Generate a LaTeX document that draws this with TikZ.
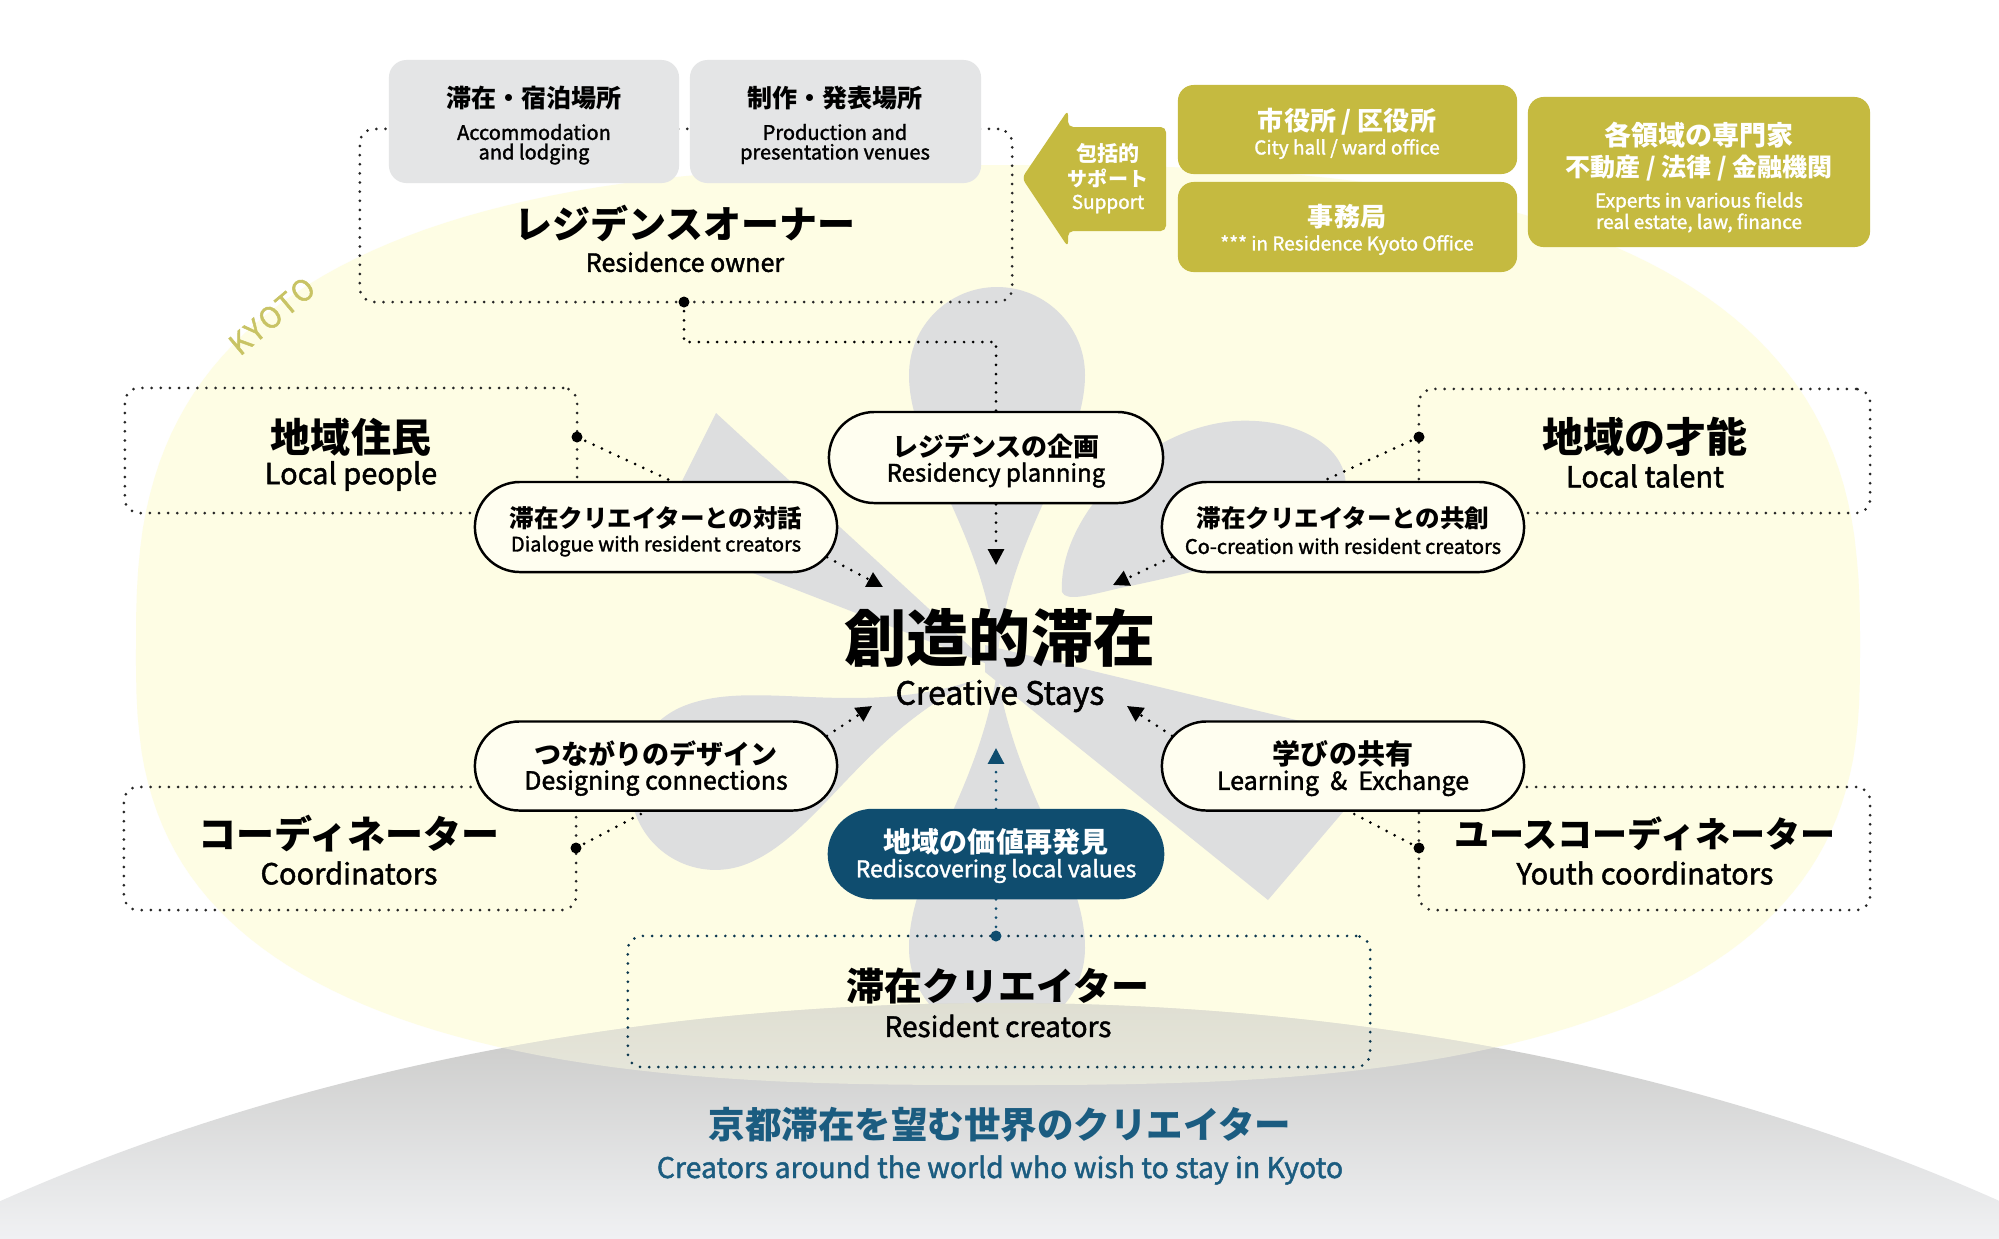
\documentclass[tikz,border=0pt]{standalone}
\usepackage{fontspec}
\setmainfont{Noto Sans CJK JP}
\newfontfamily\medfont{Noto Sans CJK JP}[FakeBold=1.6]
\newfontfamily\kyotofont{Noto Sans CJK JP}[FakeBold=1.6, LetterSpace=8]
\usetikzlibrary{arrows.meta,shapes.misc,calc}
\definecolor{cream}{RGB}{254,253,228}
\definecolor{pillfill}{RGB}{255,254,240}
\definecolor{petalgray}{RGB}{221,222,223}
\definecolor{boxgray}{RGB}{228,229,230}
\definecolor{olive}{RGB}{197,186,64}
\definecolor{kyotoc}{RGB}{200,195,100}
\definecolor{navy}{RGB}{15,77,111}
\definecolor{bluetxt}{RGB}{27,92,128}
\definecolor{hilltop}{RGB}{198,198,196}
\definecolor{hillbot}{RGB}{240,241,243}
\newcommand\pxf[1]{\fontsize{\fpeval{#1*0.28453}pt}{\fpeval{#1*0.33}pt}\selectfont}
\newcommand\kyotoshape{plot[domain=0.5:360.5, samples=201] ({998+862*(cos(\x)>=0?1:-1)*abs(cos(\x))^0.7273}, {650-(sin(\x)>=0?485:435)*(sin(\x)>=0?1:-1)*abs(sin(\x))^0.7273}) -- cycle}
\newcommand\hillshape{(1000,2003) ellipse [x radius=1673, y radius=1000]}
% petal: base x, base y, angle, length, head radius, stem factor
\newcommand\petal[6]{%
  \begin{scope}[shift={(#1,#2)},rotate=#3]
    \fill[petalgray] (0,0) .. controls ({0.45*#4},{#6*#5}) and ({#4-0.9*#5},{#5}) .. ({#4},{#5})
      arc[start angle=90,end angle=-90,radius=#5]
      .. controls ({#4-0.9*#5},{-#5}) and ({0.45*#4},{-#6*#5}) .. (0,0) -- cycle;
  \end{scope}}
\tikzset{
  lbl/.style={inner sep=0pt, anchor=center},
  dotline/.style={line width=0.85pt, line cap=round, dash pattern=on 0pt off 2.6pt},
  dotbox/.style={draw=black!85, line width=0.85pt, line cap=round, dash pattern=on 0pt off 2.6pt, rounded corners=4pt, inner sep=0pt},
  graybox/.style={fill=boxgray, rounded corners=5pt, inner sep=0pt},
  olivebox/.style={fill=olive, rounded corners=4.5pt, inner sep=0pt},
  pill/.style={rounded rectangle, draw=black, line width=0.7pt, fill=pillfill, inner sep=0pt, minimum height=0.9cm},
  tip/.style={-{Triangle[length=4.5pt,width=4.5pt]}},
  jpb/.style={lbl, font=\bfseries\pxf{#1}},
  enm/.style={lbl, font=\medfont\pxf{#1}}
}
\begin{document}
\begin{tikzpicture}[x=0.01cm, y=-0.01cm]
\useasboundingbox (0,0) rectangle (1999,1238);
\fill[white] (0,0) rectangle (1999,1238);
% Kyoto area
\fill[cream] \kyotoshape;
% petals
\petal{997}{665}{90}{290}{88}{0.10}
\petal{975}{680}{202}{280}{85}{0.10}
\petal{997}{672}{-90}{276}{88}{0.22}
\fill[petalgray] (1062,592) .. controls (1058,520) and (1140,428) .. (1235,421)
  .. controls (1300,417) and (1352,450) .. (1345,492)
  .. controls (1332,540) and (1200,572) .. (1120,588)
  .. controls (1090,595) and (1066,602) .. (1062,592) -- cycle;
\fill[petalgray] (990,665) -- (716,413) -- (655,535) -- cycle;
\fill[petalgray] (985,645) -- (1400,745) -- (1268,900) -- (985,672) -- cycle;
% hill of world creators
\begin{scope}
  \clip \hillshape;
  \shade[top color=hilltop, bottom color=hillbot] (0,1000) rectangle (1999,1238);
  \fill[cream, opacity=0.45] \kyotoshape;
\end{scope}
% KYOTO label
\node[lbl, rotate=40, text=kyotoc, font=\kyotofont\pxf{29}] (kyoto) at (272,316) {KYOTO};
% dotted boxes
\node[dotbox, minimum width=6.52cm, minimum height=1.73cm] (owner) at (686,215.5) {};
\node[dotbox, minimum width=4.52cm, minimum height=1.25cm] (lp) at (351,450.5) {};
\node[dotbox, minimum width=4.51cm, minimum height=1.24cm] (lt) at (1644.5,451) {};
\node[dotbox, minimum width=4.52cm, minimum height=1.23cm] (co) at (350,848.5) {};
\node[dotbox, minimum width=4.51cm, minimum height=1.23cm] (yc) at (1644.5,848.5) {};
\node[dotbox, draw=navy!70!black, minimum width=7.42cm, minimum height=1.31cm] (rc) at (999,1001.5) {};
% gray boxes
\node[graybox, minimum width=2.90cm, minimum height=1.23cm] (acc) at (534,121.5) {};
\node[graybox, minimum width=2.91cm, minimum height=1.23cm] (prod) at (835.5,121.5) {};
% olive support boxes
\node[olivebox, minimum width=3.39cm, minimum height=0.89cm] (city) at (1347.5,129.5) {};
\node[olivebox, minimum width=3.39cm, minimum height=0.90cm] (office) at (1347.5,227) {};
\node[olivebox, minimum width=3.42cm, minimum height=1.50cm] (expert) at (1699,172) {};
\fill[olive, rounded corners=1.5pt] (1022,178) -- (1068,110) -- (1068,127) -- (1166,127) -- (1166,231) -- (1068,231) -- (1068,247) -- cycle;
% pills
\node[pill, minimum width=3.62cm] (dlg) at (656,527) {};
\node[pill, minimum width=3.34cm, minimum height=0.91cm] (res) at (996,457.5) {};
\node[pill, minimum width=3.62cm] (cc) at (1343,527) {};
\node[pill, minimum width=3.62cm, minimum height=0.89cm] (dsg) at (656,766) {};
\node[pill, minimum width=3.62cm, minimum height=0.89cm] (lrn) at (1343,766) {};
\node[pill, fill=navy, draw=navy, minimum width=3.34cm, minimum height=0.88cm] (rdv) at (996,854) {};
% coordinates
\coordinate (owDot) at (684,302);
\coordinate (owBend) at (996,342);
\coordinate (lpDot) at (577,437);
\coordinate (ltDot) at (1419,437);
\coordinate (coDot) at (576,848);
\coordinate (yDot) at (1419,848);
\coordinate (rcDot) at (996,936);
\coordinate (dA) at (883,587);
\coordinate (cA) at (1113,585);
\coordinate (dsA) at (872,706);
\coordinate (lA) at (1127,706);
\coordinate (rA) at (996,565);
\coordinate (rdA) at (996,748);
% connectors
\draw[dotline] (owDot) |- (owBend) -- (res.north);
\draw[dotline, tip] (res.south) -- (rA);
\draw[dotline] (lpDot) -- ($(dlg.north)+(15,0)$);
\draw[dotline] (ltDot) -- ($(cc.north)+(-19,0)$);
\draw[dotline] (coDot) -- ($(dsg.south)+(-11,0)$);
\draw[dotline] (yDot) -- ($(lrn.south)+(7,0)$);
\draw[dotline, tip] (dlg.-10) -- (dA);
\draw[dotline, tip] (cc.-170) -- (cA);
\draw[dotline, tip] (dsg.10) -- (dsA);
\draw[dotline, tip] (lrn.170) -- (lA);
\draw[dotline, tip, navy] (rdv.north) -- (rdA);
\draw[dotline, navy] (rcDot) -- (rdv.south);
\foreach \d in {owDot,lpDot,ltDot,coDot,yDot} \fill (\d) circle[radius=5.5];
\fill[navy] (rcDot) circle[radius=5.5];
% texts: top gray boxes
\node[jpb=25] (t1) at (534,98) {滞在・宿泊場所};
\node[enm=20] (t2) at (534,132) {Accommodation};
\node[enm=20] (t3) at (534,154) {and lodging};
\node[jpb=25] (t4) at (835,98) {制作・発表場所};
\node[enm=20] (t5) at (835,132) {Production and};
\node[enm=20] (t6) at (835,154) {presentation venues};
% owner
\node[jpb=38] (t7) at (685,223) {レジデンスオーナー};
\node[enm=25] (t8) at (685,262) {Residence owner};
% support
\node[jpb=21, text=white] (t9) at (1108,153) {包括的};
\node[jpb=20, text=white] (t10) at (1108,178) {サポート};
\node[enm=19, text=white] (t11) at (1108,204) {Support};
\node[jpb=26, text=white] (t12) at (1347,122) {市役所 / 区役所};
\node[enm=19, text=white] (t13) at (1347,149) {City hall / ward office};
\node[jpb=26, text=white] (t14) at (1347,217) {事務局};
\node[enm=19, text=white] (t15) at (1347,245) {*** in Residence Kyoto Office};
\node[jpb=27, text=white] (t16) at (1699,135) {各領域の専門家};
\node[jpb=25, text=white] (t17) at (1699,168) {不動産 / 法律 / 金融機関};
\node[enm=19, text=white] (t18) at (1699,202) {Experts in various fields};
\node[enm=19, text=white] (t19) at (1699,223) {real estate, law, finance};
% side boxes
\node[jpb=40] (t20) at (351,437) {地域住民};
\node[enm=29] (t21) at (351,476) {Local people};
\node[jpb=41] (t22) at (1645,437) {地域の才能};
\node[enm=29] (t23) at (1645,476) {Local talent};
\node[jpb=38] (t24) at (349,834) {コーディネーター};
\node[enm=29] (t25) at (349,873) {Coordinators};
\node[jpb=35] (t26) at (1645,834) {ユースコーディネーター};
\node[enm=29] (t27) at (1645,873) {Youth coordinators};
\node[jpb=38] (t28) at (998,986) {滞在クリエイター};
\node[enm=28] (t29) at (998,1026) {Resident creators};
% pills text
\node[jpb=26] (t30) at (996,446) {レジデンスの企画};
\node[enm=24] (t31) at (996,475) {Residency planning};
\node[jpb=24.5] (t32) at (656,518) {滞在クリエイターとの対話};
\node[enm=20] (t33) at (656,546) {Dialogue with resident creators};
\node[jpb=24.5] (t34) at (1343,518) {滞在クリエイターとの共創};
\node[enm=20] (t35) at (1343,546) {Co-creation with resident creators};
\node[jpb=27] (t36) at (656,754) {つながりのデザイン};
\node[enm=25] (t37) at (656,783) {Designing connections};
\node[jpb=28] (t38) at (1343,754) {学びの共有};
\node[enm=25] (t39) at (1343,783) {Learning \ \& \ Exchange};
\node[jpb=28, text=white] (t40) at (996,842) {地域の価値再発見};
\node[enm=23, text=white] (t41) at (996,871) {Rediscovering local values};
% center
\node[jpb=62] (t42) at (1000,638) {創造的滞在};
\node[enm=32] (t43) at (1000,696) {Creative Stays};
% bottom
\node[jpb=36.5, text=bluetxt] (t44) at (1000,1125) {京都滞在を望む世界のクリエイター};
\node[enm=28.4, text=bluetxt] (t45) at (1000,1170) {Creators around the world who wish to stay in Kyoto};
\end{tikzpicture}
\end{document}
